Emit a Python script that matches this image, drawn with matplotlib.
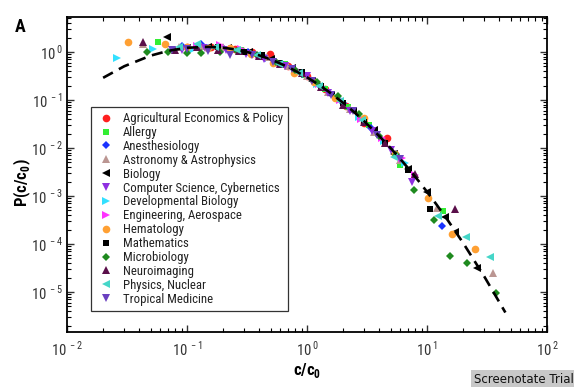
import matplotlib
matplotlib.use("Agg")
import math
import matplotlib.pyplot as plt
from matplotlib import font_manager
from matplotlib.ticker import LogLocator, FixedLocator, FuncFormatter, NullFormatter

# ---------------- data ----------------
fields = [
    "Agricultural Economics & Policy", "Allergy", "Anesthesiology",
    "Astronomy & Astrophysics", "Biology", "Computer Science, Cybernetics",
    "Developmental Biology", "Engineering, Aerospace", "Hematology",
    "Mathematics", "Microbiology", "Neuroimaging", "Physics, Nuclear",
    "Tropical Medicine",
]

agri_x = [0.1, 0.16, 0.25, 0.35, 0.49, 0.7, 1.0, 1.4, 2.1, 3.0, 4.6]
agri_y = [1.25, 1.3, 1.15, 0.98, 0.91, 0.5, 0.31, 0.17, 0.075, 0.033, 0.016]

allergy_x = [0.057, 0.12, 0.18, 0.28, 0.42, 0.65, 0.95, 1.4, 2.2, 3.3, 5.9, 13.5]
allergy_y = [1.6, 1.3, 1.3, 1.1, 0.85, 0.56, 0.33, 0.17, 0.072, 0.03, 0.0044, 4.9e-4]

anest_x = [0.09, 0.13, 0.2, 0.32, 0.45, 0.62, 0.9, 1.3, 2.0, 3.4, 5.5, 13.3]
anest_y = [1.35, 1.45, 1.2, 1.0, 0.75, 0.55, 0.34, 0.19, 0.085, 0.026, 0.0075, 2.4e-4]

astro_x = [0.043, 0.085, 0.13, 0.2, 0.3, 0.46, 0.7, 1.0, 1.5, 2.3, 3.6, 6.0, 12.1, 35.5]
astro_y = [1.45, 1.25, 1.35, 1.25, 1.05, 0.8, 0.5, 0.31, 0.15, 0.065, 0.022, 0.0055, 5.6e-4, 2.5e-5]

bio_x = [0.068, 0.1, 0.15, 0.22, 0.33, 0.5, 0.75, 1.1, 1.6, 2.4, 3.6, 5.3, 7.0, 10.0, 14.0, 17.0, 26.0]
bio_y = [2.05, 1.2, 1.3, 1.2, 1.0, 0.7, 0.46, 0.25, 0.13, 0.06, 0.024, 0.0075, 0.0036, 0.0012, 3.6e-4, 1.8e-4, 3.2e-5]

cs_x = [0.09, 0.14, 0.21, 0.31, 0.44, 0.66, 1.0, 1.5, 2.3, 3.5, 5.0, 7.5]
cs_y = [1.1, 1.2, 1.1, 0.9, 0.72, 0.5, 0.31, 0.14, 0.06, 0.023, 0.009, 0.00195]

devbio_x = [0.026, 0.052, 0.11, 0.16, 0.24, 0.36, 0.55, 0.8, 1.2, 1.8, 2.7, 4.4, 6.5]
devbio_y = [0.75, 1.15, 1.1, 1.2, 1.15, 0.92, 0.62, 0.4, 0.22, 0.11, 0.045, 0.014, 0.0048]

eng_x = [0.12, 0.19, 0.28, 0.4, 0.6, 0.85, 1.25, 1.9, 2.8, 4.2, 6.2, 8.0]
eng_y = [1.35, 1.4, 1.15, 0.85, 0.58, 0.4, 0.22, 0.1, 0.04, 0.016, 0.0062, 0.0028]

hemat_x = [0.032, 0.066, 0.1, 0.15, 0.23, 0.34, 0.52, 0.78, 1.15, 1.7, 3.0, 5.4, 10.2, 16.2, 25.0]
hemat_y = [1.6, 1.45, 1.3, 1.2, 1.2, 0.9, 0.58, 0.37, 0.24, 0.11, 0.042, 0.0075, 9.1e-4, 1.6e-4, 7.9e-5]

math_x = [0.18, 0.3, 0.42, 0.6, 0.9, 1.3, 2.0, 3.0, 4.5, 7.0, 10.6]
math_y = [1.3, 1.0, 0.85, 0.6, 0.38, 0.2, 0.085, 0.035, 0.013, 0.0035, 5.4e-4]

micro_x = [0.046, 0.07, 0.1, 0.13, 0.19, 0.26, 0.38, 0.55, 0.8, 1.2, 1.8, 2.7, 4.0, 5.5, 7.8, 11.4, 15.6, 21.5, 37.6]
micro_y = [1.0, 1.0, 0.95, 0.95, 0.98, 1.05, 0.85, 0.62, 0.42, 0.24, 0.12, 0.05, 0.018, 0.0072, 1.33e-3, 3.2e-4, 5.6e-5, 4.0e-5, 9.5e-6]

neuro_x = [0.043, 0.08, 0.12, 0.18, 0.27, 0.4, 0.6, 0.9, 1.3, 2.0, 3.0, 4.5, 7.9, 17.1]
neuro_y = [1.6, 1.1, 1.25, 1.1, 1.05, 0.82, 0.55, 0.36, 0.19, 0.08, 0.034, 0.013, 0.0029, 5.4e-4]

phys_x = [0.085, 0.12, 0.17, 0.26, 0.38, 0.58, 0.85, 1.25, 1.9, 2.9, 5.3, 12.3, 21.1, 33.5]
phys_y = [1.3, 1.45, 1.25, 1.1, 0.88, 0.56, 0.36, 0.2, 0.095, 0.038, 0.0065, 3.8e-4, 1.4e-4, 5.4e-5]

trop_x = [0.075, 0.1, 0.15, 0.23, 0.35, 0.52, 0.75, 1.1, 1.6, 2.4, 3.8, 6.0]
trop_y = [1.1, 1.15, 1.05, 0.88, 0.85, 0.62, 0.45, 0.25, 0.13, 0.058, 0.019, 0.0058]

# dashed fit curve
fit_x = [0.02, 0.03, 0.05, 0.07, 0.1, 0.15, 0.2, 0.25, 0.3, 0.4, 0.5, 0.7, 1.0, 1.2,
         1.5, 2.0, 2.5, 3.0, 4.0, 5.0, 6.0, 7.0, 8.5, 10.0, 12.0, 15.0, 20.0, 30.0, 45.0]
fit_y = [0.29, 0.505, 0.843, 1.058, 1.224, 1.283, 1.228, 1.137, 1.037, 0.851, 0.699,
         0.484, 0.297, 0.223, 0.152, 0.0874, 0.0545, 0.036, 0.01775, 0.00983, 0.00589,
         0.00374, 0.00206, 0.001225, 6.65e-4, 3.05e-4, 1.053e-4, 2.11e-5, 3.74e-6]

x_ticks = [1e-2, 1e-1, 1e0, 1e1, 1e2]
y_ticks = [1e-5, 1e-4, 1e-3, 1e-2, 1e-1, 1e0]

series_x = [agri_x, allergy_x, anest_x, astro_x, bio_x, cs_x, devbio_x, eng_x,
            hemat_x, math_x, micro_x, neuro_x, phys_x, trop_x]
series_y = [agri_y, allergy_y, anest_y, astro_y, bio_y, cs_y, devbio_y, eng_y,
            hemat_y, math_y, micro_y, neuro_y, phys_y, trop_y]

# ---------------- styles ----------------
markers = ["o", "s", "D", "^", "<", "v", ">", ">", "o", "s", "D", "^", "<", "v"]
colors = ["#ff1f1f", "#33ee33", "#1a33ff", "#bb9692", "#000000", "#8f2fe0",
          "#33e0ff", "#ff33ff", "#ffa033", "#000000", "#1f8a1f", "#5a0f4a",
          "#45d6c8", "#6a40c0"]
msizes = [5.5, 5.0, 4.2, 5.5, 5.5, 5.5, 5.5, 5.5, 5.5, 4.6, 4.2, 5.5, 5.5, 5.5]

names = {f.name for f in font_manager.fontManager.ttflist}
font = "DejaVu Sans"
for cand in ["Liberation Sans Narrow", "Roboto Condensed", "Open Sans Condensed",
             "Liberation Sans", "Roboto"]:
    if cand in names:
        font = cand
        break

plt.rcParams["font.family"] = [font, "DejaVu Sans"]
plt.rcParams["mathtext.fontset"] = "custom"
plt.rcParams["mathtext.rm"] = font
plt.rcParams["mathtext.bf"] = font + ":bold"

fig = plt.figure(figsize=(5.74, 3.87), dpi=100)
ax = fig.add_axes([67 / 574, 1 - 332 / 387, 480 / 574, 315 / 387])

for xs, ys, m, c, ms, lab in zip(series_x, series_y, markers, colors, msizes, fields):
    ax.plot(xs, ys, linestyle="none", marker=m, color=c, markersize=ms,
            markeredgewidth=0, label=lab, zorder=3)

ax.plot(fit_x, fit_y, linestyle=(0, (4.2, 2.6)), color="black", linewidth=1.9,
        zorder=4, label="_fit")

ax.set_xscale("log")
ax.set_yscale("log")
ax.set_xlim(1e-2, 1e2)
ax.set_ylim(10 ** -5.833, 10 ** 0.729)

ax.xaxis.set_major_locator(FixedLocator(x_ticks))
ax.yaxis.set_major_locator(FixedLocator(y_ticks))
ax.xaxis.set_minor_locator(LogLocator(base=10, subs=range(2, 10), numticks=20))
ax.yaxis.set_minor_locator(LogLocator(base=10, subs=range(2, 10), numticks=20))


def fmt(v, pos):
    e = int(round(math.log10(v)))
    return r"$\mathrm{10}^{\,%d}$" % e


ax.xaxis.set_major_formatter(FuncFormatter(fmt))
ax.yaxis.set_major_formatter(FuncFormatter(fmt))
ax.xaxis.set_minor_formatter(NullFormatter())
ax.yaxis.set_minor_formatter(NullFormatter())

ax.tick_params(which="both", direction="in", top=True, right=True, color="black")
ax.tick_params(which="major", length=5, width=1.0, labelsize=10.5, colors="#333333")
ax.tick_params(which="minor", length=2.8, width=0.8)
ax.tick_params(axis="x", which="major", pad=6)
ax.tick_params(axis="y", which="major", pad=3)
for sp in ax.spines.values():
    sp.set_linewidth(1.3)

leg = ax.legend(loc="upper left", bbox_to_anchor=((91 - 67) / 480, (332 - 107) / 315),
                frameon=True, fancybox=False, fontsize=9.2, handlelength=1.6,
                handletextpad=0.5, labelspacing=0.07, borderpad=0.4,
                borderaxespad=0, markerscale=1.0)
leg.get_frame().set_edgecolor("black")
leg.get_frame().set_linewidth(0.9)
for t in leg.get_texts():
    t.set_color("#222222")

fig.text(22 / 574, 1 - 183 / 387, r"P(c/c$_{\mathbf{0}}$)", rotation=90,
         ha="center", va="center", fontsize=12, fontweight="bold")
fig.text(307 / 574, 1 - 371 / 387, r"c/c$_{\mathbf{0}}$", ha="center", va="center",
         fontsize=12, fontweight="bold")
fig.text(20 / 574, 1 - 26.5 / 387, "A", ha="center", va="center", fontsize=13,
         fontweight="bold")

fig.text(0.999, 0.003, "Screenotate Trial", ha="right", va="bottom", fontsize=8.5,
         family="DejaVu Sans", color="#111111",
         bbox=dict(boxstyle="square,pad=0.2", facecolor="#c8c8c8", edgecolor="none"))

fig.savefig("out.png", dpi=100)
